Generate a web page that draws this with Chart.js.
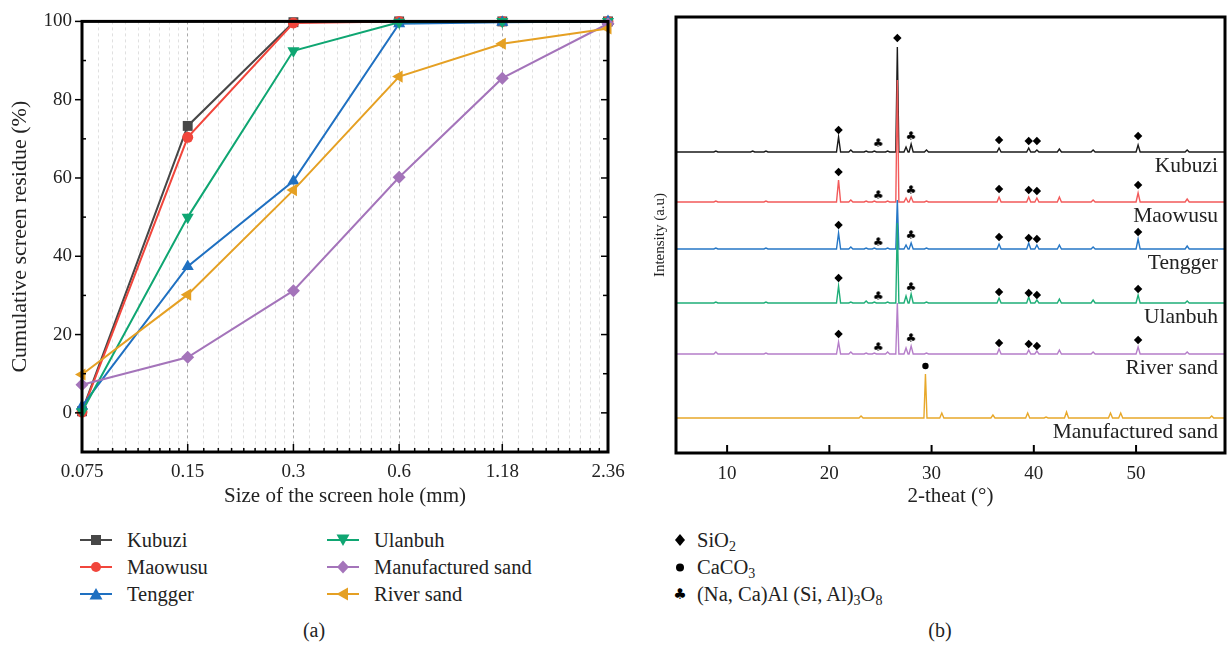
<!DOCTYPE html>
<html>
<head>
<meta charset="utf-8">
<script src="https://cdn.jsdelivr.net/npm/chart.js@4.4.1/dist/chart.umd.min.js"></script>
<style>
  body { margin: 0; background: #fff; width: 1230px; height: 646px; overflow: hidden; position: relative;
         font-family: "Liberation Serif", "DejaVu Serif", serif; color: #222; }
  #wrapA { position: absolute; left: 0; top: 0; width: 640px; height: 510px; }
  #wrapB { position: absolute; left: 640px; top: 0; width: 590px; height: 510px; }
  .item { position: absolute; font-size: 20.5px; line-height: 27px; height: 27px; white-space: nowrap; }
  .item svg { position: absolute; top: 6px; }
  .cap { position: absolute; font-size: 20px; top: 619px; transform: translateX(-50%); }
  sub { font-size: 14px; vertical-align: -4px; line-height: 0; }
</style>
</head>
<body>
<div id="wrapA"><canvas id="sieve"></canvas></div>
<div id="wrapB"><canvas id="xrd"></canvas></div>
<div id="legA"></div>
<div id="legB"></div>
<div class="cap" style="left:314px">(a)</div>
<div class="cap" style="left:940px">(b)</div>
<script>
// ---- (a) sieve analysis ----
const sieveSizes = [0.075, 0.15, 0.3, 0.6, 1.18, 2.36];
const sieveLabels = ['0.075', '0.15', '0.3', '0.6', '1.18', '2.36'];
const residueTicks = [0, 20, 40, 60, 80, 100];
const sandNames = ['Kubuzi', 'Maowusu', 'Tengger', 'Ulanbuh', 'Manufactured sand', 'River sand'];
const kubuzi = [0.4, 73.3, 99.8, 100, 100, 100];
const maowusu = [0.2, 70.4, 99.6, 100, 100, 100];
const tengger = [1.7, 37.4, 59.2, 99.4, 99.8, 100];
const ulanbuh = [0.3, 50.0, 92.5, 99.8, 100, 100];
const manufactured = [7.2, 14.2, 31.2, 60.2, 85.5, 99.4];
const riverSand = [9.8, 30.2, 56.9, 85.9, 94.3, 98.2];

// ---- (b) XRD ----
const xrdRange = [5, 58.7];
const xrdTicks = [10, 20, 30, 40, 50];
const xrdNames = ['Kubuzi', 'Maowusu', 'Tengger', 'Ulanbuh', 'River sand', 'Manufactured sand'];
const xrdBase = [301, 251, 204, 150, 99, 35];
// [2-theta, peak height]
const kubuziPeaks = [[8.9,1],[12.5,1],[13.8,1],[20.9,15],[22.1,2],[23.6,1],[24.4,1],[25.7,1],[26.65,105],[27.5,5],[28.0,8],[29.5,2],[36.6,4],[39.5,4],[40.3,2],[42.5,3],[45.8,2],[50.2,7],[55.0,2]];
const maowusuPeaks = [[8.9,1],[13.8,1],[20.9,22],[22.1,2],[23.6,1],[24.4,1],[25.7,1],[26.65,122],[27.5,4],[28.0,5],[29.5,1],[36.6,5],[39.5,5],[40.3,4],[42.5,5],[45.8,2],[50.2,9],[55.0,3]];
const tenggerPeaks = [[8.9,1],[13.8,1],[20.9,16],[22.1,2],[23.6,1],[24.4,1],[25.7,1],[26.65,49],[27.5,4],[28.0,6],[29.5,1],[36.6,5],[39.5,6],[40.3,4],[42.5,4],[45.8,2],[50.2,10],[55.0,3]];
const ulanbuhPeaks = [[8.9,1],[13.8,1],[20.9,17],[22.1,1],[23.6,2],[24.4,1],[25.7,1],[26.65,80],[27.5,7],[28.0,9],[29.5,1],[36.6,5],[39.5,6],[40.3,3],[42.5,4],[45.8,3],[50.2,8],[55.0,2]];
const riverPeaks = [[8.9,2],[13.8,1],[20.9,12],[22.1,2],[23.6,1],[24.4,1],[25.7,2],[26.65,51],[27.5,6],[28.0,8],[29.5,1],[36.6,5],[39.5,4],[40.3,3],[42.5,4],[45.8,2],[50.2,7],[55.0,2]];
const manufacturedPeaks = [[23.1,2],[29.4,44],[31.0,5],[36.0,3],[39.4,5],[41.2,1],[43.2,6],[47.5,5],[48.5,5],[57.4,2]];
// SiO2 (diamond) and feldspar (club) marks: [2-theta, height above baseline]
const quartzMarks = [
  [[20.9,22],[26.65,114],[36.6,12],[39.5,11],[40.3,11],[50.2,16]],
  [[20.9,30],[36.6,13],[39.5,12],[40.3,11],[50.2,17]],
  [[20.9,24],[36.6,12],[39.5,11],[40.3,10],[50.2,17]],
  [[20.9,25],[36.6,11],[39.5,10],[40.3,8],[50.2,14]],
  [[20.9,20],[36.6,11],[39.5,10],[40.3,8],[50.2,14]],
  []
];
const feldsparMarks = [
  [[24.8,9],[28.0,16]],
  [[24.8,7],[28.0,12]],
  [[24.8,7],[28.0,14]],
  [[24.8,7],[28.0,16]],
  [[24.8,7],[28.0,16]],
  []
];
const calciteMarks = [[], [], [], [], [], [[29.4,52]]];

const serif = '"Liberation Serif", "DejaVu Serif", serif';
const sandColors = ['#474747', '#f1463c', '#1f70c1', '#0fa672', '#a474ba', '#e5a023'];
const sandStyles = ['rect', 'circle', 'triangle', 'triangle', 'rectRot', 'triangle'];
const sandRot = [0, 0, 0, 180, 0, -90];
const sandRadius = [7, 5.5, 7, 7, 6.5, 7];
const xrdColors = ['#1a1a1a', '#f25a5a', '#2677c6', '#1fae78', '#b57ec9', '#e8a82a'];

// minor grid lines: 8 evenly spaced values inside each sieve interval
const sieveMinor = [];
for (let i = 0; i < sieveSizes.length - 1; i++) {
  for (let k = 1; k <= 8; k++) {
    sieveMinor.push(sieveSizes[i] + (sieveSizes[i + 1] - sieveSizes[i]) * k / 9);
  }
}

function strokeLine(ctx, x1, y1, x2, y2) {
  ctx.beginPath(); ctx.moveTo(x1, y1); ctx.lineTo(x2, y2); ctx.stroke();
}

const frameA = {
  id: 'frameA',
  afterDraw(chart) {
    const { ctx, chartArea: a, scales: { x, y } } = chart;
    ctx.save();
    ctx.strokeStyle = '#000';
    ctx.lineWidth = 1.5;
    x.ticks.forEach(t => {
      const px = x.getPixelForValue(t.value);
      strokeLine(ctx, px, a.bottom, px, a.bottom - (t.major ? 8 : 4));
    });
    for (let v = -10; v <= 100; v += 10) {
      const py = y.getPixelForValue(v);
      if (v % 20 === 0) {
        strokeLine(ctx, a.left, py, a.left - 7, py);
        strokeLine(ctx, a.right, py, a.right - 7, py);
      } else {
        strokeLine(ctx, a.left, py, a.left + 4, py);
        strokeLine(ctx, a.right, py, a.right - 5, py);
      }
    }
    ctx.lineWidth = 3;
    ctx.strokeRect(a.left, a.top, a.width, a.height);
    ctx.restore();
  }
};

const sandValues = [kubuzi, maowusu, tengger, ulanbuh, manufactured, riverSand];

new Chart(document.getElementById('sieve'), {
  type: 'line',
  data: {
    datasets: sandValues.map((vals, i) => ({
      label: sandNames[i],
      data: vals.map((v, j) => ({ x: sieveSizes[j], y: v })),
      borderColor: sandColors[i],
      backgroundColor: sandColors[i],
      borderWidth: 2,
      pointStyle: sandStyles[i],
      pointRotation: sandRot[i],
      pointRadius: sandRadius[i],
      pointBorderWidth: 0,
      order: 6 - i,
      clip: false
    }))
  },
  options: {
    responsive: true,
    maintainAspectRatio: false,
    animation: false,
    layout: { padding: { top: 18, right: 32, left: 0, bottom: 0 } },
    plugins: { legend: { display: false }, tooltip: { enabled: false } },
    scales: {
      x: {
        type: 'logarithmic',
        min: sieveSizes[0],
        max: sieveSizes[sieveSizes.length - 1],
        afterBuildTicks: s => {
          s.ticks = sieveSizes.map(v => ({ value: v, major: true }))
            .concat(sieveMinor.map(v => ({ value: v, major: false })));
        },
        afterFit: s => { s.height = 58; },
        ticks: {
          autoSkip: false, maxRotation: 0, padding: 9,
          color: '#222', font: { family: serif, size: 19 },
          callback: v => { const i = sieveSizes.indexOf(v); return i >= 0 ? sieveLabels[i] : ''; }
        },
        grid: {
          drawTicks: false,
          color: c => (c.tick && c.tick.major) ? '#a8a8a8' : '#e0e0e0',
          lineWidth: 1
        },
        border: { display: false, dash: [3, 3] },
        title: {
          display: true, text: 'Size of the screen hole (mm)', color: '#222',
          font: { family: serif, size: 21 }, padding: { top: 0, bottom: 1 }
        }
      },
      y: {
        min: -10, max: 100,
        afterBuildTicks: s => { s.ticks = residueTicks.map(v => ({ value: v })); },
        afterFit: s => { s.width = 82; },
        ticks: { padding: 10, color: '#222', font: { family: serif, size: 19 } },
        grid: { display: false, drawTicks: false },
        border: { display: false },
        title: {
          display: true, text: 'Cumulative screen residue (%)', color: '#222',
          font: { family: serif, size: 22 }, padding: { top: 7, bottom: 0 }
        }
      }
    }
  },
  plugins: [frameA]
});

// ---- (b) ----
function trace(peaks, base) {
  const pts = [{ x: xrdRange[0], y: base }];
  peaks.forEach(([t, h]) => {
    const w = h > 30 ? 0.15 : 0.2;
    pts.push({ x: t - w, y: base }, { x: t, y: base + h }, { x: t + w, y: base });
  });
  pts.push({ x: xrdRange[1], y: base });
  return pts;
}
function marks(list, base) {
  return list.map(([t, h]) => ({ x: t, y: base + h }));
}
function clubIcon() {
  const c = document.createElement('canvas');
  c.width = 12; c.height = 12;
  const g = c.getContext('2d');
  g.fillStyle = '#000';
  g.font = '12px "DejaVu Sans"';
  g.textAlign = 'center';
  g.textBaseline = 'middle';
  g.fillText('\u2663', 6, 6.5);
  return c;
}
const club = clubIcon();
const allPeaks = [kubuziPeaks, maowusuPeaks, tenggerPeaks, ulanbuhPeaks, riverPeaks, manufacturedPeaks];

const xrdSets = allPeaks.map((p, i) => ({
  label: xrdNames[i],
  data: trace(p, xrdBase[i]),
  borderColor: xrdColors[i],
  borderWidth: 1.4,
  pointRadius: 0,
  order: 10 - i
}));
const flat = (arr) => arr.reduce((acc, l, i) => acc.concat(marks(l, xrdBase[i])), []);
xrdSets.push(
  { label: 'SiO2', data: flat(quartzMarks), showLine: false, pointStyle: 'rectRot', pointRadius: 4.2,
    backgroundColor: '#000', borderWidth: 0, order: 0 },
  { label: 'CaCO3', data: flat(calciteMarks), showLine: false, pointStyle: 'circle', pointRadius: 3.2,
    backgroundColor: '#000', borderWidth: 0, order: 0 },
  { label: 'feldspar', data: flat(feldsparMarks), showLine: false, pointStyle: club, order: 0 }
);

const frameB = {
  id: 'frameB',
  afterDraw(chart) {
    const { ctx, chartArea: a, scales: { x, y } } = chart;
    ctx.save();
    ctx.fillStyle = '#222';
    ctx.font = '21.5px ' + serif;
    ctx.textAlign = 'right';
    ctx.textBaseline = 'middle';
    xrdNames.forEach((n, i) => ctx.fillText(n, a.right - 7, y.getPixelForValue(xrdBase[i] - 14.5)));
    ctx.strokeStyle = '#000';
    ctx.lineWidth = 2;
    xrdTicks.forEach(v => {
      const px = x.getPixelForValue(v);
      strokeLine(ctx, px, a.bottom, px, a.bottom - 8);
    });
    ctx.lineWidth = 3;
    ctx.strokeRect(a.left, a.top, a.width, a.height);
    ctx.restore();
  }
};

new Chart(document.getElementById('xrd'), {
  type: 'line',
  data: { datasets: xrdSets },
  options: {
    responsive: true,
    maintainAspectRatio: false,
    animation: false,
    layout: { padding: { top: 17, right: 4, left: 0, bottom: 0 } },
    plugins: { legend: { display: false }, tooltip: { enabled: false } },
    elements: { line: { tension: 0 } },
    scales: {
      x: {
        type: 'linear', min: xrdRange[0], max: xrdRange[1],
        afterBuildTicks: s => { s.ticks = xrdTicks.map(v => ({ value: v })); },
        afterFit: s => { s.height = 57; },
        ticks: { padding: 10, color: '#222', font: { family: serif, size: 19 } },
        grid: { display: false, drawTicks: false },
        border: { display: false },
        title: {
          display: true, text: '2-theat (\u00b0)', color: '#222',
          font: { family: serif, size: 21 }, padding: { top: 0, bottom: 1 }
        }
      },
      y: {
        min: 0, max: 436,
        afterFit: s => { s.width = 36; },
        ticks: { display: false },
        grid: { display: false, drawTicks: false },
        border: { display: false },
        title: {
          display: true, text: 'Intensity (a.u)', color: '#222',
          font: { family: serif, size: 15 }, padding: { top: 11, bottom: 0 }
        }
      }
    }
  },
  plugins: [frameB]
});

// ---- legends ----
const shapeSvg = {
  rect: '<rect x="11" y="2" width="10" height="10"/>',
  circle: '<circle cx="16" cy="7" r="5"/>',
  up: '<polygon points="16,1 22.5,12.5 9.5,12.5"/>',
  down: '<polygon points="9.5,1.5 22.5,1.5 16,13"/>',
  diamond: '<polygon points="16,0.5 22,7 16,13.5 10,7"/>',
  left: '<polygon points="9.5,7 21,0.5 21,13.5"/>'
};
const legShapes = ['rect', 'circle', 'up', 'down', 'diamond', 'left'];
const legA = document.getElementById('legA');
sandNames.forEach((name, i) => {
  const col = i < 3 ? 0 : 1;
  const row = i % 3;
  const d = document.createElement('div');
  d.className = 'item';
  d.style.left = (col ? 327 : 80) + 'px';
  d.style.top = (527 + row * 27) + 'px';
  d.innerHTML = '<svg width="32" height="14" style="left:0"><line x1="0" y1="7" x2="32" y2="7" stroke="' +
    sandColors[i] + '" stroke-width="2"/><g fill="' + sandColors[i] + '">' + shapeSvg[legShapes[i]] +
    '</g></svg><span style="position:absolute;left:47px">' + name + '</span>';
  legA.appendChild(d);
});

const phaseNames = ['SiO<sub>2</sub>', 'CaCO<sub>3</sub>', '(Na, Ca)Al (Si, Al)<sub>3</sub>O<sub>8</sub>'];
const phaseIcons = [
  '<svg width="12" height="14" style="left:0"><polygon points="6,1 11,7 6,13 1,7" fill="#000"/></svg>',
  '<svg width="12" height="14" style="left:0"><circle cx="6" cy="7.5" r="4" fill="#000"/></svg>',
  '<svg width="14" height="16" style="left:-1px;top:5px"><text x="7" y="13" text-anchor="middle" font-family="DejaVu Sans" font-size="15" fill="#000">\u2663</text></svg>'
];
const legB = document.getElementById('legB');
phaseNames.forEach((n, i) => {
  const d = document.createElement('div');
  d.className = 'item';
  d.style.left = '674px';
  d.style.top = (527 + i * 27) + 'px';
  d.innerHTML = phaseIcons[i] + '<span style="position:absolute;left:23px">' + n + '</span>';
  legB.appendChild(d);
});
</script>
</body>
</html>
